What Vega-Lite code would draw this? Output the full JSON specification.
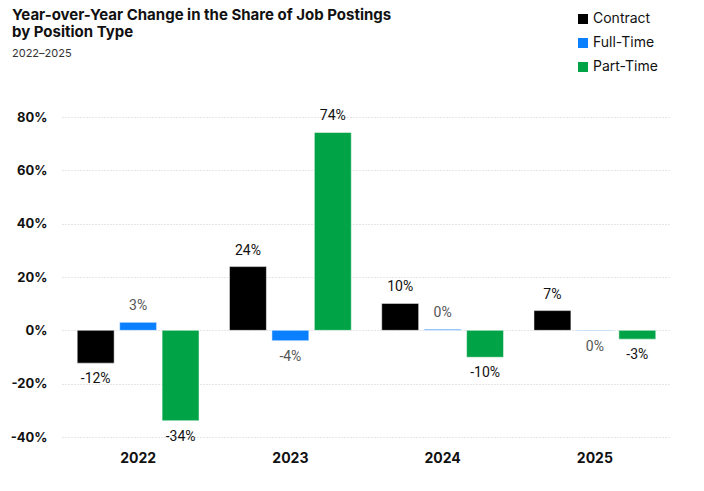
{
  "$schema": "https://vega.github.io/schema/vega-lite/v6.json",
  "autosize": {"type": "none"},
  "padding": {"left": 62, "top": 117, "right": 33, "bottom": 54},
  "width": 609,
  "height": 320,
  "background": "white",
  "title": {
    "text": ["Year-over-Year Change in the Share of Job Postings", "by Position Type"],
    "subtitle": "2022–2025",
    "anchor": "start",
    "frame": "group",
    "dx": -50,
    "offset": -47,
    "font": "Inter",
    "fontSize": 15,
    "fontWeight": "bold",
    "lineHeight": 17,
    "color": "#111",
    "subtitleFont": "Inter",
    "subtitleFontSize": 11,
    "subtitleColor": "#333",
    "subtitlePadding": 8
  },
  "data": {
    "values": [
      {"year": "2022", "type": "Contract", "value": -0.123},
      {"year": "2022", "type": "Full-Time", "value": 0.03},
      {"year": "2022", "type": "Part-Time", "value": -0.339},
      {"year": "2023", "type": "Contract", "value": 0.239},
      {"year": "2023", "type": "Full-Time", "value": -0.039},
      {"year": "2023", "type": "Part-Time", "value": 0.742},
      {"year": "2024", "type": "Contract", "value": 0.101},
      {"year": "2024", "type": "Full-Time", "value": 0.004},
      {"year": "2024", "type": "Part-Time", "value": -0.101},
      {"year": "2025", "type": "Contract", "value": 0.074},
      {"year": "2025", "type": "Full-Time", "value": -0.002},
      {"year": "2025", "type": "Part-Time", "value": -0.033}
    ]
  },
  "encoding": {
    "x": {
      "field": "year",
      "type": "nominal",
      "scale": {"paddingInner": 0.2, "paddingOuter": 0.1},
      "axis": {
        "title": null,
        "labelAngle": 0,
        "labelFont": "Inter",
        "labelFontSize": 14,
        "labelFontWeight": "bold",
        "labelColor": "#111",
        "labelPadding": 14,
        "ticks": false,
        "domain": false
      }
    },
    "xOffset": {
      "field": "type",
      "type": "nominal",
      "scale": {"paddingInner": 0.13, "paddingOuter": 0}
    },
    "y": {
      "field": "value",
      "type": "quantitative",
      "scale": {"domain": [-0.4, 0.8], "nice": false},
      "axis": {
        "title": null,
        "values": [-0.4, -0.2, 0, 0.2, 0.4, 0.6, 0.8],
        "format": ".0%",
        "labelFont": "Inter",
        "labelFontSize": 13,
        "labelFontWeight": "bold",
        "labelColor": "#111",
        "labelPadding": 15,
        "ticks": false,
        "domain": false,
        "gridColor": "#cccccc",
        "gridDash": [1, 2],
        "gridWidth": 1
      }
    }
  },
  "layer": [
    {
      "mark": {"type": "bar", "stroke": "white", "strokeWidth": 0.5},
      "encoding": {
        "color": {
          "field": "type",
          "type": "nominal",
          "scale": {
            "domain": ["Contract", "Full-Time", "Part-Time"],
            "range": ["#000000", "#0a80ff", "#00a346"]
          },
          "legend": {
            "title": null,
            "orient": "none",
            "legendX": 514,
            "legendY": -105,
            "symbolType": "square",
            "symbolSize": 100,
            "symbolStrokeWidth": 0,
            "labelFont": "Inter",
            "labelFontSize": 14,
            "labelColor": "#111",
            "labelOffset": 3,
            "rowPadding": 10,
            "padding": 0
          }
        }
      }
    },
    {
      "transform": [{"filter": "datum.value >= 0"}],
      "mark": {"type": "text", "baseline": "middle", "dy": -16, "font": "Roboto", "fontSize": 14},
      "encoding": {
        "text": {"field": "value", "type": "quantitative", "format": ".0%"},
        "color": {
          "condition": {"test": "datum.type === 'Full-Time'", "value": "#555555"},
          "value": "#111111"
        }
      }
    },
    {
      "transform": [{"filter": "datum.value < 0"}],
      "mark": {"type": "text", "baseline": "middle", "dy": 16, "font": "Roboto", "fontSize": 14},
      "encoding": {
        "text": {"field": "value", "type": "quantitative", "format": ".0%"},
        "color": {
          "condition": {"test": "datum.type === 'Full-Time'", "value": "#555555"},
          "value": "#111111"
        }
      }
    }
  ],
  "config": {
    "view": {"stroke": null},
    "locale": {
      "number": {
        "decimal": ".",
        "thousands": ",",
        "grouping": [3],
        "currency": ["$", ""],
        "minus": "-"
      }
    }
  }
}
